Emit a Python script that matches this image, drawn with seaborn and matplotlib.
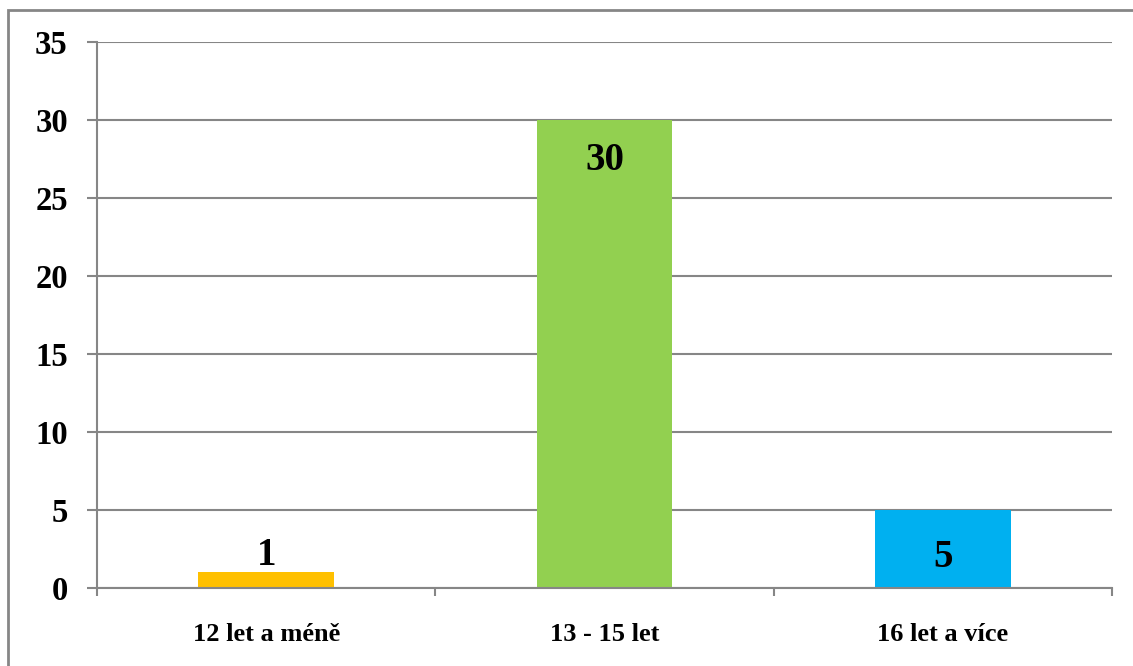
import matplotlib
matplotlib.use("Agg")
import matplotlib.pyplot as plt
import seaborn as sns
import pandas as pd
from matplotlib.patches import Rectangle

categories = ["12 let a méně", "13 - 15 let", "16 let a více"]
values = [1, 30, 5]
colors = ["#FFC000", "#92D050", "#00B0F0"]
y_ticks = [0, 5, 10, 15, 20, 25, 30, 35]

sns.set_theme(style="white")
plt.rcParams["font.family"] = ["Liberation Serif", "DejaVu Serif"]
plt.rcParams["font.weight"] = "bold"

grid_color = "#868686"

fig = plt.figure(figsize=(11.33, 6.66), dpi=100)
ax = fig.add_axes([97 / 1133, 1 - 588 / 666, (1112 - 97) / 1133, (588 - 42) / 666])

df = pd.DataFrame({"kategorie": categories, "pocet": values})
sns.barplot(data=df, x="kategorie", y="pocet", hue="kategorie",
            palette=colors, width=0.4, legend=False, ax=ax, saturation=1,
            linewidth=0)

ax.set_xlim(-0.5, len(categories) - 0.5)
ax.set_ylim(0, 35)
ax.set_yticks(y_ticks)
ax.set_yticklabels([str(t) for t in y_ticks], fontsize=23.5, fontweight="bold")
ax.set_xticks(range(len(categories)))
ax.set_xticklabels(categories, fontsize=19, fontweight="bold")
ax.set_xlabel("")
ax.set_ylabel("")

ax.yaxis.grid(True, color=grid_color, linewidth=1.5)
ax.set_axisbelow(True)
for side in ["top", "right"]:
    ax.spines[side].set_visible(False)
for side in ["left", "bottom"]:
    ax.spines[side].set_color(grid_color)
    ax.spines[side].set_linewidth(1.5)

ax.tick_params(axis="y", which="major", direction="out", length=7, width=1.5,
               color=grid_color, left=True, pad=14, labelcolor="black")
ax.tick_params(axis="x", which="major", length=0, pad=25, labelcolor="black")
# category boundary ticks on the x axis
ax.set_xticks([i - 0.5 for i in range(len(categories) + 1)], minor=True)
ax.tick_params(axis="x", which="minor", direction="out", length=6, width=1.5,
               color=grid_color, bottom=True)

# value labels: above short bars, inside tall ones
label_kw = dict(textcoords="offset points", ha="center", va="center",
                fontsize=28, fontweight="bold", color="black")
for i, v in enumerate(values):
    if v < 3:
        ax.annotate(str(v), (i, v), xytext=(0, 12), **label_kw)
    elif v < 10:
        ax.annotate(str(v), (i, v / 2), xytext=(0, -6), **label_kw)
    else:
        ax.annotate(str(v), (i, v), xytext=(0, -29), **label_kw)

# outer frame of the chart area
fig.patches.append(Rectangle((8 / 1133, -0.1), 1.2, 1 - 10 / 666 + 0.1,
                             transform=fig.transFigure, fill=False,
                             edgecolor=grid_color, linewidth=2))

fig.savefig("out.png", dpi=100)
